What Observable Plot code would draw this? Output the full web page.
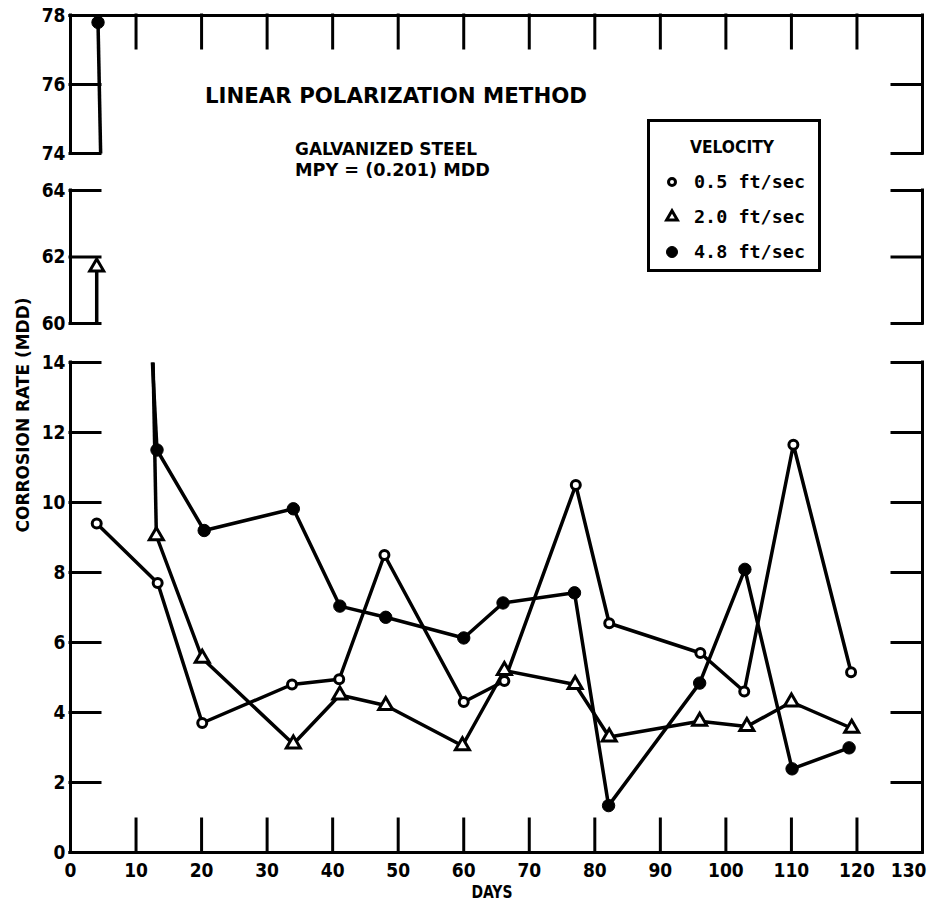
<!DOCTYPE html>
<html>
<head>
<meta charset="utf-8">
<script src="https://cdn.jsdelivr.net/npm/d3@7"></script>
<script src="https://cdn.jsdelivr.net/npm/@observablehq/plot@0.6"></script>
<style>
  body { margin: 0; background: #fff; }
  #wrap { position: relative; width: 932px; height: 903px; overflow: hidden; background: #fff; }
  #wrap svg { position: absolute; left: 0; overflow: visible; background: transparent; }
  #wrap svg text.cond, #wrap svg.panel text { font-stretch: condensed; }
</style>
</head>
<body>
<div id="wrap"></div>
<script>
// ---------------- data ----------------
const seriesNames = ["0.5 ft/sec", "2.0 ft/sec", "4.8 ft/sec"];

const days05 = [4, 13.3, 20.1, 33.8, 41, 47.9, 60, 66.2, 77.1, 82.2, 96.1, 102.8, 110.3, 119.1];
const rate05 = [9.4, 7.7, 3.7, 4.8, 4.95, 8.5, 4.3, 4.9, 10.5, 6.55, 5.7, 4.6, 11.65, 5.15];

const days20 = [4, 13.1, 20.1, 34, 41.1, 48.1, 59.8, 66.2, 77, 82.2, 96, 103.2, 110, 119.2];
const rate20 = [61.7, 9.05, 5.55, 3.1, 4.5, 4.2, 3.05, 5.2, 4.8, 3.3, 3.75, 3.6, 4.3, 3.55];

const days48 = [4.2, 13.2, 20.4, 34, 41.1, 48.1, 60, 66, 76.9, 82.1, 96, 102.9, 110.1, 118.8];
const rate48 = [77.8, 11.5, 9.2, 9.82, 7.04, 6.72, 6.13, 7.13, 7.42, 1.34, 4.84, 8.09, 2.39, 2.99];

// line pieces drawn across the axis breaks: [day, rate] start and end
const breakFrom = [[4.2, 77.8], [4, 61.7], [12.5, 14], [12.6, 14]];
const breakTo   = [[4.6, 74],   [4, 60],   [13.2, 11.5], [13.1, 9.05]];

const xTicks = [0, 10, 20, 30, 40, 50, 60, 70, 80, 90, 100, 110, 120, 130];
const yTicksTop = [74, 76, 78];
const yTicksMid = [60, 62, 64];
const yTicksLow = [0, 2, 4, 6, 8, 10, 12, 14];

const titleText = "LINEAR POLARIZATION METHOD";
const subtitle1 = "GALVANIZED STEEL";
const subtitle2 = "MPY = (0.201) MDD";
const legendTitle = "VELOCITY";
const xLabel = "DAYS";
const yLabel = "CORROSION RATE (MDD)";

// ---------------- build ----------------
const rows = [];
[[days05, rate05], [days20, rate20], [days48, rate48]].forEach(([ds, vs], i) => {
  ds.forEach((d, j) => rows.push({s: seriesNames[i], d, v: vs[j]}));
});
const breaks = breakFrom.map((f, i) => ({x1: f[0], y1: f[1], x2: breakTo[i][0], y2: breakTo[i][1]}));

const W = 932, ML = 70, MR = 10;
const FONT = "'DejaVu Sans Condensed', 'DejaVu Sans', sans-serif";
const S = {stroke: "black", strokeWidth: 3, strokeLinecap: "square"};
const labelFont = {fontFamily: FONT, fontSize: 19, fontWeight: "bold", fill: "black"};

function panel(cfg) {
  const [lo, hi] = cfg.domain;
  const mt = 12, mb = cfg.low ? 51 : 12;
  const ph = cfg.pxBottom - cfg.pxTop;
  const yPerPx = (hi - lo) / ph;
  const xPerPx = 130 / (W - ML - MR);
  const hTick = 30 * xPerPx;   // y-axis tick length in days
  const vTick = 33 * yPerPx;   // x-axis tick length in rate units
  const inP = v => v >= lo - 1e-9 && v <= hi + 1e-9;
  const inner = xTicks.filter(d => d > 0 && d < 130);
  const pts = rows.filter(r => inP(r.v));

  const marks = [
    Plot.ruleX([0, 130], {y1: lo, y2: hi, ...S}),
    Plot.ruleY(cfg.ticks, {x1: 0, x2: hTick, ...S}),
    Plot.ruleY(cfg.ticks, {x1: 130 - hTick, x2: 130, ...S}),
    Plot.text(cfg.ticks, {x: 0, y: d => d, text: d => String(d), textAnchor: "end", dx: -5, ...labelFont})
  ];
  if (cfg.top) {
    marks.push(Plot.ruleY([hi], {x1: 0, x2: 130, ...S}));
    marks.push(Plot.ruleX(inner, {y1: hi, y2: hi - vTick, ...S}));
  }
  if (cfg.low) {
    marks.push(Plot.ruleY([lo], {x1: 0, x2: 130, ...S}));
    marks.push(Plot.ruleX(inner, {y1: lo, y2: lo + vTick, ...S}));
    marks.push(Plot.text(xTicks.slice(0, -1), {x: d => d, y: lo, dy: 18, text: d => String(d), ...labelFont}));
    marks.push(Plot.text(xTicks.slice(-1), {x: d => d, y: lo, dy: 18, dx: 4, textAnchor: "end", text: d => String(d), ...labelFont}));
  }
  marks.push(Plot.link(breaks.filter(b => inP(b.y1) && inP(b.y2)),
    {x1: "x1", y1: "y1", x2: "x2", y2: "y2", stroke: "black", strokeWidth: 3.5}));
  marks.push(Plot.line(pts, {x: "d", y: "v", z: "s", stroke: "black", strokeWidth: 3.5, strokeLinejoin: "round"}));
  marks.push(Plot.dot(pts.filter(r => r.s === seriesNames[0]),
    {x: "d", y: "v", r: 4.5, fill: "white", stroke: "black", strokeWidth: 3}));
  marks.push(Plot.dot(pts.filter(r => r.s === seriesNames[1]),
    {x: "d", y: "v", r: 5.2, symbol: "triangle", fill: "white", stroke: "black", strokeWidth: 3}));
  marks.push(Plot.dot(pts.filter(r => r.s === seriesNames[2]),
    {x: "d", y: "v", r: 6.2, fill: "black", stroke: "black", strokeWidth: 1}));

  const svg = Plot.plot({
    width: W, height: mt + ph + mb,
    marginLeft: ML, marginRight: MR, marginTop: mt, marginBottom: mb,
    x: {domain: [0, 130], axis: null},
    y: {domain: [lo, hi], axis: null},
    style: {background: "transparent", overflow: "visible"},
    marks
  });
  svg.classList.add("panel");
  svg.style.top = (cfg.pxTop - mt) + "px";
  return svg;
}

const wrap = document.getElementById("wrap");
wrap.appendChild(panel({domain: [74, 78], ticks: yTicksTop, pxTop: 15, pxBottom: 153, top: true}));
wrap.appendChild(panel({domain: [60, 64], ticks: yTicksMid, pxTop: 190, pxBottom: 323}));
wrap.appendChild(panel({domain: [0, 14], ticks: yTicksLow, pxTop: 362, pxBottom: 852, low: true}));

// ---------------- annotations: titles, axis titles, legend ----------------
const ov = d3.select(wrap).append("svg")
  .attr("width", W).attr("height", 903)
  .style("top", "0px").style("pointer-events", "none");

function txt(x, y, s, size, len, opts = {}) {
  const t = ov.append("text").attr("x", x).attr("y", y).text(s)
    .attr("class", opts.family ? null : "cond")
    .attr("font-family", opts.family || FONT).attr("font-size", size)
    .attr("font-weight", opts.weight || "bold").attr("fill", "black")
    .attr("text-anchor", opts.anchor || "start");
  if (len) t.attr("textLength", len).attr("lengthAdjust", "spacingAndGlyphs");
  if (opts.transform) t.attr("transform", opts.transform);
  return t;
}

txt(205, 103, titleText, 22, 382);
txt(295, 155, subtitle1, 18, 182);
txt(295, 176, subtitle2, 18, 195);
txt(492, 898, xLabel, 17, 41, {anchor: "middle"});
txt(0, 0, yLabel, 18, 235, {anchor: "middle", transform: "translate(29,415) rotate(-90)"});

// legend
ov.append("rect").attr("x", 648.5).attr("y", 120.5).attr("width", 171).attr("height", 150)
  .attr("fill", "white").attr("stroke", "black").attr("stroke-width", 3);
txt(732, 153, legendTitle, 18, 84, {anchor: "middle"});
const sym = [
  {type: d3.symbolCircle, size: Math.PI * 3.5 * 3.5, fill: "white", sw: 3},
  {type: d3.symbolTriangle, size: Math.PI * 4 * 4, fill: "white", sw: 3},
  {type: d3.symbolCircle, size: Math.PI * 5.5 * 5.5, fill: "black", sw: 1}
];
seriesNames.forEach((name, i) => {
  const cy = 182 + i * 35;
  ov.append("path").attr("d", d3.symbol(sym[i].type, sym[i].size)())
    .attr("transform", `translate(672,${cy})`)
    .attr("fill", sym[i].fill).attr("stroke", "black").attr("stroke-width", sym[i].sw);
  txt(694, cy + 6, name, 18, 111, {family: "'DejaVu Sans Mono', monospace"});
});
</script>
</body>
</html>
